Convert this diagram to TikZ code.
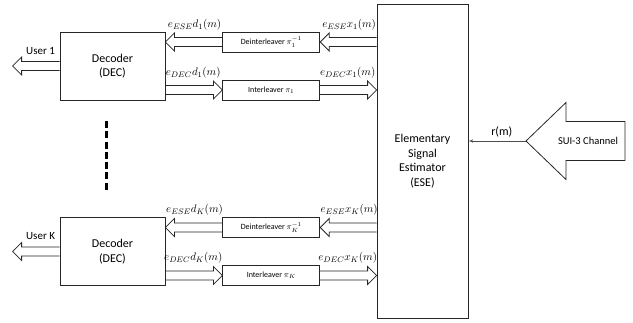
\documentclass[tikz,border=0pt]{standalone}
\usepackage{amsmath}
\usepackage{fontspec}
\setmainfont{Carlito}
\usetikzlibrary{arrows}
\usetikzlibrary{calc}
\usetikzlibrary{positioning}
\tikzset{>=latex', x=1pt, y=1pt, font=\fontsize{12}{14.6}\selectfont}
\tikzstyle{block} = [draw=black!85, line width=0.8pt, rectangle, minimum width=105pt, minimum height=68pt, inner sep=0pt, text centered, align=center]
\tikzstyle{leaver} = [draw=black!85, line width=0.8pt, rectangle, minimum width=97pt, minimum height=20pt, inner sep=0pt, font=\fontsize{8}{9}\selectfont]
\tikzstyle{hollow} = [draw=black!85, line width=0.8pt, to path={let \p1=(\tikztostart), \p2=(\tikztotarget), \n1={(\x2>\x1)*2-1} in
    (\x1,\y1+4.5pt) -- (\x2-\n1*9pt,\y1+4.5pt) \tikztonodes -- (\x2-\n1*9pt,\y1+9pt) -- (\x2,\y1)
    -- (\x2-\n1*9pt,\y1-9pt) -- (\x2-\n1*9pt,\y1-4.5pt) -- (\x1,\y1-4.5pt)}]
\tikzstyle{lbl} = [above=5pt, pos=0.58, inner sep=2pt, font=\fontsize{11}{12}\selectfont]
\tikzstyle{usr} = [above=5pt, pos=0.5, inner sep=2pt, font=\fontsize{11}{12}\selectfont]
\tikzstyle{output} = [coordinate]

\begin{document}
\begin{tikzpicture}
        \useasboundingbox (0,0) rectangle (633,322);

        \node [block] (ese) at (422.5,161) [minimum width=91pt, minimum height=314pt] {Elementary\\Signal\\Estimator\\(ESE)};
        \node [block] (dec1) at (112.5,256) {Decoder\\(DEC)};
        \node [leaver, right=57pt of dec1.north east, anchor=north west] (deint1) {Deinterleaver $\pi_1^{-1}$};
        \node [leaver, right=57pt of dec1.south east, anchor=south west] (int1) {Interleaver $\pi_1$};
        \node [output, left=47pt of dec1] (user1) {};
        \node [block] (decK) at (112.5,70.5) {Decoder\\(DEC)};
        \node [leaver, right=57pt of decK.north east, anchor=north west] (deintK) {Deinterleaver $\pi_K^{-1}$};
        \node [leaver, right=57pt of decK.south east, anchor=south west] (intK) {Interleaver $\pi_K$};
        \node [output, left=47pt of decK] (userK) {};
        \coordinate (chantip) at (526,181);
        \node (chan) at (588,181) {\fontsize{10.5}{12}\selectfont SUI-3 Channel};

        % user 1
        \draw [hollow] (dec1.west) to node [usr] {User 1} (user1);
        \draw [hollow] (deint1.east -| ese.west) to node [lbl] {$e_{ESE}x_1(m)$} (deint1.east);
        \draw [hollow] (deint1.west) to node [lbl] {$e_{ESE}d_1(m)$} (deint1.west -| dec1.east);
        \draw [hollow] (int1.west -| dec1.east) to node [lbl] {$e_{DEC}d_1(m)$} (int1.west);
        \draw [hollow] (int1.east) to node [lbl] {$e_{DEC}x_1(m)$} (int1.east -| ese.west);

        % user K
        \draw [hollow] (decK.west) to node [usr] {User K} (userK);
        \draw [hollow] (deintK.east -| ese.west) to node [lbl] {$e_{ESE}x_K(m)$} (deintK.east);
        \draw [hollow] (deintK.west) to node [lbl] {$e_{ESE}d_K(m)$} (deintK.west -| decK.east);
        \draw [hollow] (intK.west -| decK.east) to node [lbl] {$e_{DEC}d_K(m)$} (intK.west);
        \draw [hollow] (intK.east) to node [lbl] {$e_{DEC}x_K(m)$} (intK.east -| ese.west);

        \draw [line width=3pt, dash pattern=on 7pt off 3.3pt] (106.7,201) -- (106.7,132);

        % channel
        \draw [draw=black!85, line width=0.8pt] (chantip) -- ++(40,38.5) -- ++(0,-19) -- ++(59,0) -- ++(0,-39) -- ++(-59,0) -- ++(0,-19) -- cycle;
        \draw [->, draw=black!70, line width=0.6pt] (chantip) -- node [above=2pt, pos=0.42, inner sep=2pt] {r(m)} (chantip -| ese.east);
    \end{tikzpicture}
\end{document}
